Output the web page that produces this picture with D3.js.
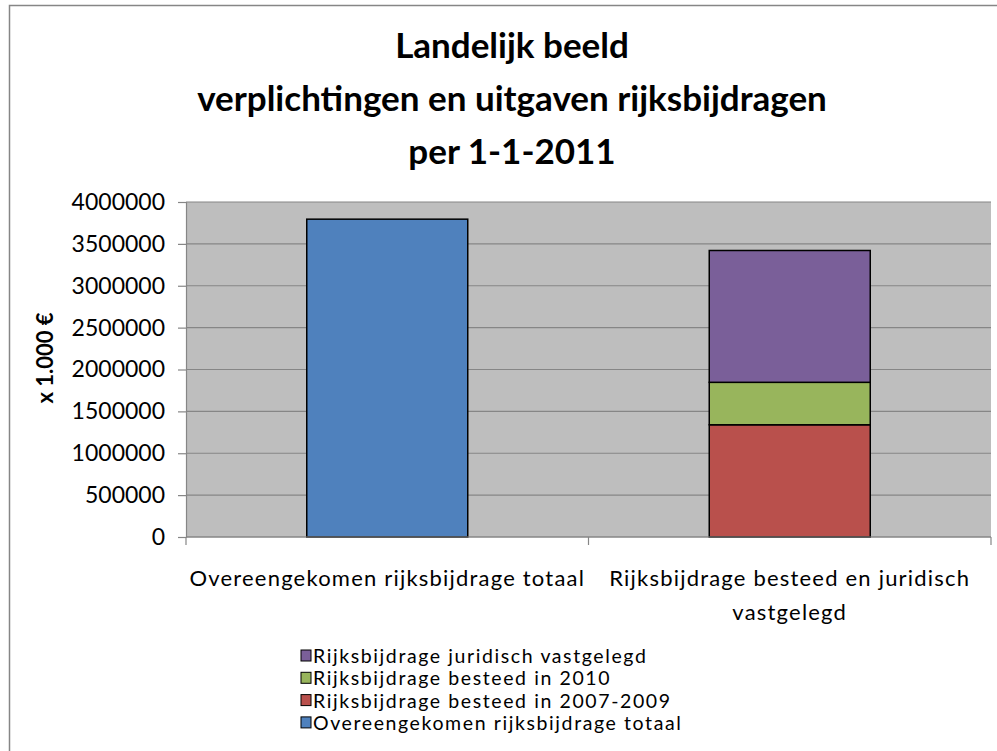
<!DOCTYPE html>
<html>
<head>
<meta charset="utf-8">
<script src="https://cdn.jsdelivr.net/npm/d3@7"></script>
<style>
  html, body { margin: 0; padding: 0; background: #fff; }
  svg { display: block; font-family: Lato, "Open Sans", sans-serif; }
</style>
</head>
<body>
<div id="chart"></div>
<script>
// categorieën en reeksen (waarden x 1.000 €)
const categories = ["Overeengekomen rijksbijdrage totaal", "Rijksbijdrage besteed en juridisch vastgelegd"];
const seriesNames = [
  "Overeengekomen rijksbijdrage totaal",
  "Rijksbijdrage besteed in 2007-2009",
  "Rijksbijdrage besteed in 2010",
  "Rijksbijdrage juridisch vastgelegd"
];
const totaalValues = [3795000, 0];
const besteed0709Values = [0, 1340000];
const besteed2010Values = [0, 507000];
const vastgelegdValues = [0, 1574000];
const seriesColors = ["#4f81bd", "#b9504c", "#98b55c", "#7a5f99"];
const yTicks = [0, 500000, 1000000, 1500000, 2000000, 2500000, 3000000, 3500000, 4000000];
const titleLines = ["Landelijk beeld", "verplichtingen en uitgaven rijksbijdragen", "per 1-1-2011"];

const W = 997, H = 751;
const plot = { left: 186, right: 991, top: 202, bottom: 537 };

const svg = d3.select("#chart").append("svg")
  .attr("width", W).attr("height", H);

// kader rond de grafiek
svg.append("rect")
  .attr("x", 9.5).attr("y", 5.5)
  .attr("width", W + 20).attr("height", H + 20)
  .attr("fill", "#fff").attr("stroke", "#868686").attr("stroke-width", 1.5);

// titel
svg.append("g").selectAll("text")
  .data(titleLines)
  .join("text")
  .attr("x", 512)
  .attr("y", (d, i) => 58 + i * 53)
  .attr("text-anchor", "middle")
  .attr("font-size", 35)
  .attr("font-weight", "bold")
  .attr("fill", "#000")
  .text(d => d);

const x = d3.scaleBand()
  .domain(categories)
  .range([plot.left, plot.right])
  .paddingInner(0.6)
  .paddingOuter(0.3);

const y = d3.scaleLinear()
  .domain([0, 4000000])
  .range([plot.bottom, plot.top]);

// plotgebied
svg.append("rect")
  .attr("x", plot.left).attr("y", plot.top)
  .attr("width", plot.right - plot.left).attr("height", plot.bottom - plot.top)
  .attr("fill", "#bebebe");

// rasterlijnen
svg.append("g").selectAll("line")
  .data(yTicks)
  .join("line")
  .attr("x1", plot.left).attr("x2", plot.right)
  .attr("y1", d => y(d)).attr("y2", d => y(d))
  .attr("stroke", "#868686").attr("stroke-width", 1.2);

// gestapelde staven
const table = categories.map((c, i) => ({
  cat: c,
  s0: totaalValues[i],
  s1: besteed0709Values[i],
  s2: besteed2010Values[i],
  s3: vastgelegdValues[i]
}));
const stack = d3.stack().keys(["s0", "s1", "s2", "s3"]);
const layers = stack(table);

svg.append("g").selectAll("g")
  .data(layers)
  .join("g")
  .attr("fill", (d, i) => seriesColors[i])
  .selectAll("rect")
  .data(d => d.filter(p => p[1] - p[0] > 0))
  .join("rect")
  .attr("x", d => x(d.data.cat))
  .attr("width", x.bandwidth())
  .attr("y", d => y(d[1]))
  .attr("height", d => y(d[0]) - y(d[1]))
  .attr("stroke", "#000")
  .attr("stroke-width", 1.5);

// y-as
const yAxis = svg.append("g")
  .attr("transform", `translate(${plot.left},0)`)
  .call(d3.axisLeft(y).tickValues(yTicks).tickFormat(d3.format("d")).tickSize(8).tickPadding(13));
yAxis.select(".domain").attr("stroke", "#868686").attr("stroke-width", 1.2);
yAxis.selectAll(".tick line").attr("stroke", "#868686").attr("stroke-width", 1.2);
yAxis.selectAll(".tick text")
  .attr("font-size", 23).attr("fill", "#000")
  .attr("font-family", "Lato, sans-serif");

// x-as
svg.append("line")
  .attr("x1", plot.left).attr("x2", plot.right)
  .attr("y1", plot.bottom).attr("y2", plot.bottom)
  .attr("stroke", "#868686").attr("stroke-width", 1.2);
const gap = (x.step() - x.bandwidth()) / 2;
const bounds = categories.map(c => x(c) - gap).concat([plot.right]);
svg.append("g").selectAll("line")
  .data(bounds)
  .join("line")
  .attr("x1", d => d).attr("x2", d => d)
  .attr("y1", plot.bottom).attr("y2", plot.bottom + 8)
  .attr("stroke", "#868686").attr("stroke-width", 1.2);

// categorielabels, afgebroken op bandbreedte
const catLabels = svg.append("g").selectAll("text")
  .data(categories)
  .join("text")
  .attr("x", d => x(d) + x.bandwidth() / 2)
  .attr("y", 586)
  .attr("text-anchor", "middle")
  .attr("font-size", 22)
  .attr("letter-spacing", 1.2)
  .attr("fill", "#000");
catLabels.each(function (d) {
  const el = d3.select(this);
  const words = d.split(" ");
  const maxW = x.step() + 10;
  let line = [];
  let tspan = el.append("tspan").attr("x", el.attr("x")).attr("dy", 0);
  words.forEach(w => {
    line.push(w);
    tspan.text(line.join(" "));
    if (tspan.node().getComputedTextLength() > maxW && line.length > 1) {
      line.pop();
      tspan.text(line.join(" "));
      line = [w];
      tspan = el.append("tspan").attr("x", el.attr("x")).attr("dy", 34).text(w);
    }
  });
});

// y-astitel
svg.append("text")
  .attr("transform", "translate(53,358) rotate(-90)")
  .attr("text-anchor", "middle")
  .attr("font-size", 22)
  .attr("font-weight", "bold")
  .attr("fill", "#000")
  .text("x 1.000 €");

// legenda (omgekeerde volgorde)
const legendItems = seriesNames.map((n, i) => ({ name: n, color: seriesColors[i] })).reverse();
const legend = svg.append("g").attr("transform", "translate(301,656)");
const li = legend.selectAll("g")
  .data(legendItems)
  .join("g")
  .attr("transform", (d, i) => `translate(0,${i * 22.3})`);
li.append("rect")
  .attr("x", 0).attr("y", -6)
  .attr("width", 10).attr("height", 11)
  .attr("fill", d => d.color)
  .attr("stroke", "#000").attr("stroke-width", 1);
li.append("text")
  .attr("x", 12).attr("y", 7)
  .attr("font-size", 19.5)
  .attr("letter-spacing", 1.6)
  .attr("fill", "#000")
  .text(d => d.name);
</script>
</body>
</html>
